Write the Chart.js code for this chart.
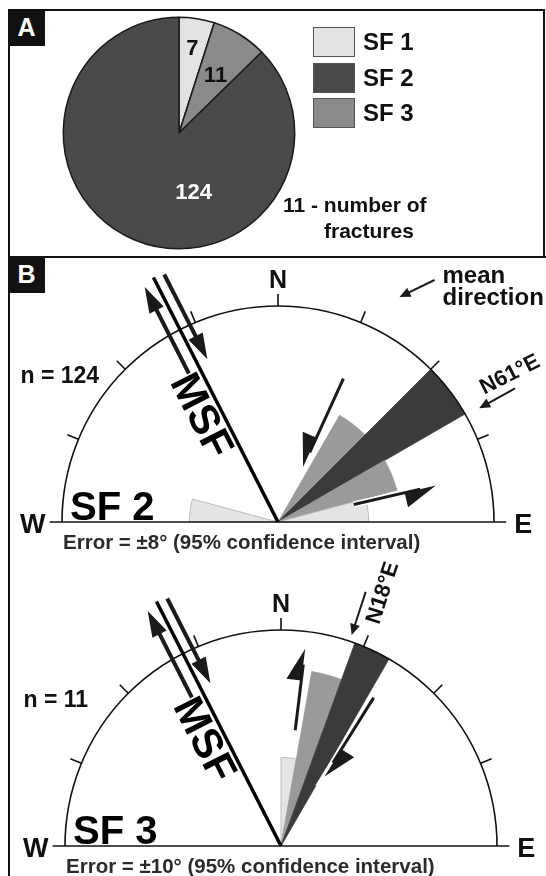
<!DOCTYPE html>
<html>
<head>
<meta charset="utf-8">
<title>Shear fracture sets</title>
<script src="https://cdn.jsdelivr.net/npm/chart.js@4.4.1/dist/chart.umd.min.js"></script>
<style>
html, body { margin: 0; padding: 0; background: #fff; }
body { position: relative; width: 546px; height: 876px; overflow: hidden;
       font-family: "Liberation Sans", Arial, sans-serif; font-weight: bold; color: #111; }
.abs { position: absolute; }
.frame { position: absolute; box-sizing: border-box; border: 2.5px solid #111; }
.tag { position: absolute; width: 37px; height: 37px; background: #111; color: #fff;
       font-size: 25px; line-height: 37px; text-align: center; }
.txt { position: absolute; line-height: 1; white-space: nowrap; }
canvas { position: absolute; left: 0; pointer-events: none; }
</style>
</head>
<body>
<div class="frame" style="left:8px;top:9px;width:537px;height:249px"></div>
<div class="frame" style="left:8px;top:255.5px;width:600px;height:700px;border-right:none;border-bottom:none"></div>
<div class="tag" style="left:8px;top:9px">A</div>
<div class="tag" style="left:8px;top:256px">B</div>
<canvas id="pie" width="546" height="258" style="top:0"></canvas>
<div id="legend"></div>
<div class="txt" style="left:283px;top:194px;font-size:21px">11 - number of</div>
<div class="txt" style="left:324px;top:220px;font-size:21px">fractures</div>
<canvas id="sf2" style="top:256px"></canvas>
<canvas id="sf3" style="top:540px"></canvas>
<script>
// ---- data ----
// panel A: number of fractures per set, clockwise from north
const pieSets = ['SF 1', 'SF 3', 'SF 2'];
const pieCounts = [7, 11, 124];
const legendOrder = ['SF 1', 'SF 2', 'SF 3'];

// panel B: rose diagrams, relative petal length (max = 100), bins clockwise from N
const sf2Freq = [0, 0, 57, 100, 57, 42, 0, 0, 0, 0, 0, 0,
                 0, 0, 0, 0, 0, 0, 41, 0, 0, 0, 0, 0];          // 15 deg bins
const sf3Freq = [41, 82, 100, 0, 0, 0, 0, 0, 0, 0, 0, 0,
                 0, 0, 0, 0, 0, 0, 0, 0, 0, 0, 0, 0,
                 0, 0, 0, 0, 0, 0, 0, 0, 0, 0, 0, 0];           // 10 deg bins
const roseSets = ['SF 2', 'SF 3'];
const roseN = [124, 11];
const roseError = [8, 10];
const roseMean = [61, 18];       // mean direction, N..E
const msfStrike = [-27, -27];    // main shear fault trend
const tickAz = [-67.5, -45, -22.5, 0, 22.5, 45, 67.5];

const setShade = { 'SF 1': '#e3e3e3', 'SF 2': '#4a4a4a', 'SF 3': '#8a8a8a' };
const FONT = '"Liberation Sans", Arial, sans-serif';
Chart.defaults.font.family = FONT;

// ---- panel A : pie ----
const pieC = [179, 133], pieR = 116.5, pieCanvas = [546, 258];

const pieText = {
  id: 'pieText',
  afterDatasetsDraw(chart, args, o) {
    const ctx = chart.ctx;
    const vals = chart.data.datasets[0].data;
    chart.getDatasetMeta(0).data.forEach((arc, i) => {
      const p = arc.getProps(['x', 'y', 'startAngle', 'endAngle', 'outerRadius'], true);
      const ang = o.angle[i] != null ? (o.angle[i] - 90) * Math.PI / 180 : (p.startAngle + p.endAngle) / 2;
      const d = p.outerRadius * o.dist[i];
      ctx.save();
      ctx.font = 'bold 22px ' + FONT;
      ctx.fillStyle = o.color[i];
      ctx.textAlign = 'center';
      ctx.textBaseline = 'alphabetic';
      ctx.fillText(String(vals[i]), p.x + d * Math.cos(ang), p.y + d * Math.sin(ang) + 0.36 * 22);
      ctx.restore();
    });
  }
};

new Chart(document.getElementById('pie'), {
  type: 'pie',
  data: {
    labels: pieSets,
    datasets: [{
      data: pieCounts,
      backgroundColor: pieSets.map(s => setShade[s]),
      borderColor: '#1a1a1a',
      borderWidth: 1.5
    }]
  },
  options: {
    responsive: false,
    animation: false,
    layout: { padding: {
      left: pieC[0] - pieR, top: pieC[1] - pieR,
      right: pieCanvas[0] - pieC[0] - pieR, bottom: pieCanvas[1] - pieC[1] - pieR } },
    plugins: {
      legend: { display: false },
      tooltip: { enabled: false },
      pieText: { dist: [0.75, 0.6, 0.52], angle: [null, null, 166], color: ['#111', '#111', '#fff'] }
    }
  },
  plugins: [pieText]
});

const legendEl = document.getElementById('legend');
legendOrder.forEach((name, i) => {
  const top = 27 + i * 35.5;
  legendEl.insertAdjacentHTML('beforeend',
    '<div class="abs" style="left:313px;top:' + top + 'px;width:42px;height:30px;box-sizing:border-box;' +
    'border:1.5px solid #555;background:' + setShade[name] + '"></div>' +
    '<div class="txt" style="left:363px;top:' + (top + 3) + 'px;font-size:24px">' + name + '</div>');
});

// ---- panel B : half rose diagrams ----
const roseShade = v => v >= 99 ? '#3b3b3b' : v >= 50 ? '#9a9a9a' : '#e4e4e4';

function seg(ctx, a, b) {
  ctx.beginPath(); ctx.moveTo(a[0], a[1]); ctx.lineTo(b[0], b[1]); ctx.stroke();
}

function arrow(ctx, a, b, opt) {
  const dx = b[0] - a[0], dy = b[1] - a[1], L = Math.hypot(dx, dy);
  const ux = dx / L, uy = dy / L, px = -uy, py = ux;   // p = clockwise side
  const bx = b[0] - ux * opt.len, by = b[1] - uy * opt.len;
  const pts = opt.side
    ? [b, [bx, by], [bx + opt.side * px * opt.w, by + opt.side * py * opt.w]]
    : [b, [bx + px * opt.w, by + py * opt.w], [bx - px * opt.w, by - py * opt.w]];
  const draw = (extra, col) => {
    ctx.strokeStyle = col; ctx.fillStyle = col; ctx.lineWidth = opt.lw + extra;
    ctx.lineJoin = 'miter'; ctx.lineCap = 'butt';
    ctx.beginPath(); ctx.moveTo(a[0], a[1]);
    ctx.lineTo(b[0] - ux * opt.len * 0.5, b[1] - uy * opt.len * 0.5); ctx.stroke();
    ctx.beginPath(); ctx.moveTo(pts[0][0], pts[0][1]); ctx.lineTo(pts[1][0], pts[1][1]);
    ctx.lineTo(pts[2][0], pts[2][1]); ctx.closePath(); ctx.fill();
    if (extra) ctx.stroke();
  };
  if (opt.halo) draw(opt.halo, '#fff');
  draw(0, opt.color || '#1a1a1a');
}

// text with its cap box centred on p, rotated by rot degrees
function rotText(ctx, text, p, rot, size, color) {
  ctx.save();
  ctx.translate(p[0], p[1]);
  ctx.rotate(rot * Math.PI / 180);
  ctx.font = 'bold ' + size + 'px ' + FONT;
  ctx.fillStyle = color || '#111';
  ctx.textAlign = 'center';
  ctx.textBaseline = 'alphabetic';
  ctx.fillText(text, 0, 0.358 * size);
  ctx.restore();
}

function text(ctx, str, x, y, size, align, color) {
  ctx.font = 'bold ' + size + 'px ' + FONT;
  ctx.fillStyle = color || '#111';
  ctx.textAlign = align;
  ctx.textBaseline = 'alphabetic';
  ctx.fillText(str, x, y);
}

const roseDecor = {
  id: 'roseDecor',
  afterDatasetsDraw(chart, args, o) {
    const s = chart.scales.r, ctx = chart.ctx;
    const cx = s.xCenter, cy = s.yCenter, R = s.drawingArea;
    const P = (az, d, off = 0) => {
      const a = az * Math.PI / 180;
      return [cx + d * Math.sin(a) + off * Math.cos(a), cy - d * Math.cos(a) + off * Math.sin(a)];
    };
    ctx.save();
    // half circle, E-W line, ticks
    ctx.strokeStyle = '#111'; ctx.lineWidth = 1.6;
    ctx.beginPath(); ctx.arc(cx, cy, R, Math.PI, 2 * Math.PI); ctx.stroke();
    seg(ctx, [cx - R * 1.057, cy], [cx + R * 1.057, cy]);
    tickAz.forEach(t => seg(ctx, P(t, R), P(t, R + 12)));

    // main shear fault with shear sense
    ctx.strokeStyle = '#000'; ctx.lineWidth = 3.5;
    seg(ctx, P(o.msf, 0), P(o.msf, R * 1.27));
    arrow(ctx, P(o.msf, R * 0.80, -12), P(o.msf, R * 1.25, -12), { lw: 4, len: 26, w: 8 });
    arrow(ctx, P(o.msf, R * 1.26, 11), P(o.msf, R * 0.82, 11), { lw: 4, len: 26, w: 8 });
    rotText(ctx, 'MSF', P(o.msf, R * 0.6, -18), o.msf + 90, 42, '#000');

    // slip sense of the set
    o.slips.forEach(sl => arrow(ctx, P(sl.az, R * sl.from), P(sl.az, R * sl.to),
      { lw: 3, len: 32, w: 15, side: sl.side, halo: 3 }));

    // mean direction
    arrow(ctx, P(o.mean, R * o.meanArrow[0], o.meanArrow[2]), P(o.mean, R * o.meanArrow[1], o.meanArrow[2]),
      { lw: 2, len: 11, w: 5 });
    rotText(ctx, 'N' + o.mean + '\u00b0E', P(o.mean, R * o.meanText[0], o.meanText[1]), o.mean - 90 + o.meanText[2], 22);

    // labels
    text(ctx, 'N', cx, cy - R - 18, 25, 'center');
    text(ctx, 'W', cx - R * 1.135, cy + 11, 27, 'center');
    text(ctx, 'E', cx + R * 1.135, cy + 11, 27, 'center');
    text(ctx, o.name, cx - 208, cy - 2, 40, 'left', '#000');
    text(ctx, 'n = ' + o.n, cx - 257.5, cy - 139, 23, 'left');
    text(ctx, 'Error = \u00b1' + o.error + '\u00b0 (95% confidence interval)', cx - 215, cy + 27, 20.5, 'left', '#2b2b2b');

    if (o.key) {
      arrow(ctx, [cx + 156.5, cy - 242], [cx + 121.5, cy - 225], { lw: 2, len: 11, w: 5 });
      text(ctx, 'mean', cx + 164.5, cy - 239, 24, 'left');
      text(ctx, 'direction', cx + 164.5, cy - 217, 24, 'left');
    }
    ctx.restore();
  }
};

function roseChart(id, freq, binDeg, center, canvasTop, cfg) {
  const R = 216, W = 546;
  const top = center[1] - canvasTop - R;
  const H = top + 2 * R;
  const cv = document.getElementById(id);
  cv.width = W; cv.height = H;
  return new Chart(cv, {
    type: 'polarArea',
    data: {
      labels: freq.map((_, i) => (i * binDeg) + '\u00b0'),
      datasets: [{
        data: freq,
        backgroundColor: freq.map(roseShade),
        borderColor: freq.map(v => v < 50 ? '#b0b0b0' : roseShade(v)),
        borderWidth: 0.8
      }]
    },
    options: {
      responsive: false,
      animation: false,
      layout: { padding: { left: center[0] - R, right: W - center[0] - R, top: top, bottom: 0 } },
      scales: { r: {
        min: 0, max: 100, startAngle: 0,
        grid: { display: false }, angleLines: { display: false },
        ticks: { display: false }, pointLabels: { display: false }
      } },
      plugins: { legend: { display: false }, tooltip: { enabled: false }, roseDecor: cfg }
    },
    plugins: [roseDecor]
  });
}

roseChart('sf2', sf2Freq, 15, [278.5, 522], 256, {
  name: roseSets[0], n: roseN[0], error: roseError[0], mean: roseMean[0], msf: msfStrike[0],
  meanArrow: [1.26, 1.07, -2], meanText: [1.27, -18, 2], key: true,
  slips: [{ az: 24.5, from: 0.73, to: 0.28, side: 1 }, { az: 77, from: 0.36, to: 0.75, side: 1 }]
});
roseChart('sf3', sf3Freq, 10, [281, 846], 540, {
  name: roseSets[1], n: roseN[1], error: roseError[1], mean: roseMean[1], msf: msfStrike[1],
  meanArrow: [1.24, 1.03, 2], meanText: [1.26, 17, 0], key: false,
  slips: [{ az: 7, from: 0.54, to: 0.92, side: -1 }, { az: 32, from: 0.81, to: 0.38, side: -1 }]
});
</script>
</body>
</html>
